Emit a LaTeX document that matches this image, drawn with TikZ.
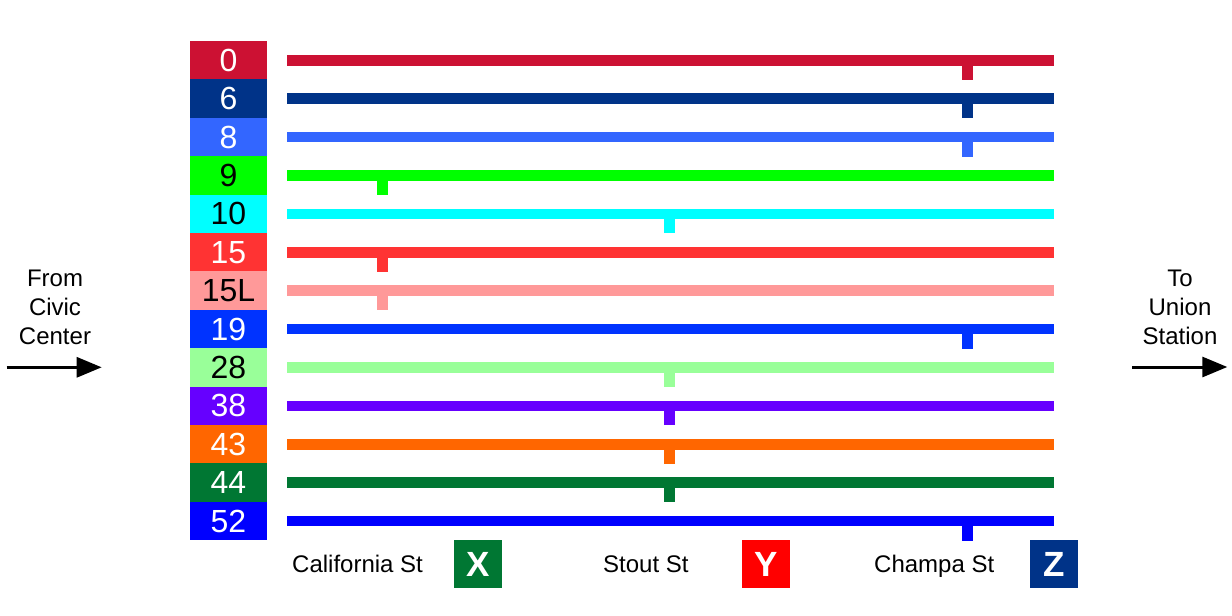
\documentclass[tikz,border=0pt]{standalone}
\usepackage{fontspec}
\setmainfont{Liberation Sans}
\usetikzlibrary{arrows.meta}
\definecolor{c0}{HTML}{CC1133}
\definecolor{c6}{HTML}{003388}
\definecolor{c8}{HTML}{3366FF}
\definecolor{c9}{HTML}{00FF00}
\definecolor{c10}{HTML}{00FFFF}
\definecolor{c15}{HTML}{FF3333}
\definecolor{c15L}{HTML}{FF9999}
\definecolor{c19}{HTML}{0033FF}
\definecolor{c28}{HTML}{99FF99}
\definecolor{c38}{HTML}{6600FF}
\definecolor{c43}{HTML}{FF6600}
\definecolor{c44}{HTML}{007733}
\definecolor{c52}{HTML}{0000FF}
\definecolor{cX}{HTML}{007733}
\definecolor{cY}{HTML}{FF0000}
\definecolor{cZ}{HTML}{003388}
\begin{document}
\begin{tikzpicture}[x=1pt,y=-1pt,
  routebox/.style={minimum width=77pt,minimum height=38.6pt,inner sep=0pt,outer sep=0pt,font=\fontsize{32}{32}\selectfont},
  routeline/.style={line width=10.6pt},
  stoplbl/.style={anchor=base west,inner sep=0pt,font=\fontsize{24}{28}\selectfont},
  stopbox/.style={minimum size=48pt,inner sep=0pt,text=white,font=\bfseries\fontsize{35}{35}\selectfont},
  dirlbl/.style={anchor=base,inner sep=0pt,font=\fontsize{24}{28.7}\selectfont},
  dirarrow/.style={line width=3pt,-{Triangle[length=25pt,width=20pt]}}]
\useasboundingbox[fill=white] (0,0) rectangle (1232,616);
\foreach \i/\lab/\col/\tc/\tx in {
  0/0/c0/white/967.5,
  1/6/c6/white/967.5,
  2/8/c8/white/967.5,
  3/9/c9/black/382.5,
  4/10/c10/black/669.5,
  5/15/c15/white/382.5,
  6/15L/c15L/black/382.5,
  7/19/c19/white/967.5,
  8/28/c28/black/669.5,
  9/38/c38/white/669.5,
  10/43/c43/white/669.5,
  11/44/c44/white/669.5,
  12/52/c52/white/967.5}{
  \pgfmathsetmacro\yc{60.2+38.4*\i}
  \node[routebox,fill=\col,text=\tc] (b\i) at (228.5,\yc) {\lab};
  \coordinate (ls\i) at (287,\yc);
  \coordinate (le\i) at (1054,\yc);
  \coordinate (ts\i) at (\tx,\yc);
  \coordinate (te\i) at (\tx,\yc+19.5);
  \draw[routeline,draw=\col] (ls\i) -- (le\i);
  \draw[routeline,draw=\col] (ts\i) -- (te\i);
}
% stop labels
\node[stoplbl] (calif) at (292,572.7) {California St};
\node[stopbox,fill=cX] (sx) at (478,564) {X};
\node[stoplbl] (stout) at (603,572.7) {Stout St};
\node[stopbox,fill=cY] (sy) at (766,564) {Y};
\node[stoplbl] (champa) at (874,572.7) {Champa St};
\node[stopbox,fill=cZ] (sz) at (1054,564) {Z};
% directions
\node[dirlbl] (from) at (55,344) {\begin{tabular}[b]{@{}c@{}}From\\Civic\\Center\end{tabular}};
\node[dirlbl] (to) at (1180,344) {\begin{tabular}[b]{@{}c@{}}To\\Union\\Station\end{tabular}};
\coordinate (fa) at (6.7,367.3);
\coordinate (fb) at (101.7,367.3);
\coordinate (ta) at (1132.3,367);
\coordinate (tb) at (1227.3,367);
\draw[dirarrow] (fa) -- (fb);
\draw[dirarrow] (ta) -- (tb);
\end{tikzpicture}
\end{document}
